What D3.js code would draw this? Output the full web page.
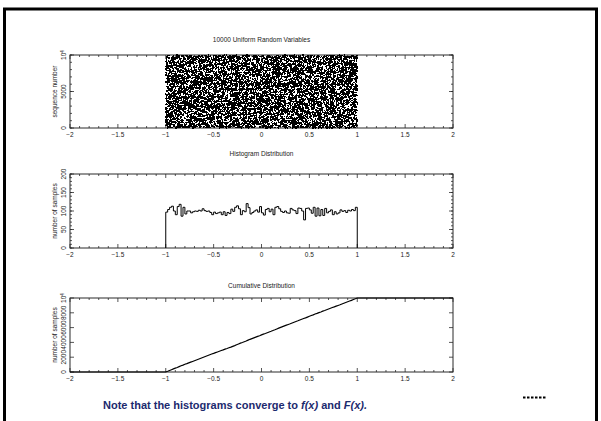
<!DOCTYPE html>
<html>
<head>
<meta charset="utf-8">
<script src="https://cdn.jsdelivr.net/npm/d3@7"></script>
<style>
  body { margin: 0; background: #fff; }
  svg { display: block; }
</style>
</head>
<body>
<div id="chart"></div>
<script>
var width = 601, height = 421;

// x axis, shared by the three panels
var xMajor = [-2, -1.5, -1, -0.5, 0, 0.5, 1, 1.5, 2];
var xLabels = ["\u22122", "\u22121.5", "\u22121", "\u22120.5", "0", "0.5", "1", "1.5", "2"];

// histogram counts, 100 bins of 0.02 from -1 to 1
var binEdgeStart = -1, binWidth = 0.02;
var counts = [
   97, 104, 110, 113, 100,  90, 112, 118,  86, 110,
   92, 100, 100,  95,  98, 100,  99, 102, 100, 106,
  101,  99, 100,  96,  90,  97,  93,  95,  97,  90,
   98,  88,  96,  93, 105,  99, 110, 114, 106,  90,
  101,  98, 120, 109,  92,  96, 100, 103,  97, 112,
   95,  89, 104, 107,  98, 105,  90, 110, 112, 106,
   99,  96, 100,  95,  94, 107, 103, 101,  93, 108,
  107, 100,  76, 107, 108, 103,  94, 110,  86, 108,
   87, 104,  88, 107,  95,  99, 103,  90,  98,  92,
   95, 103,  99, 101,  96, 102, 100, 104, 101, 110
];

var titles = ["10000 Uniform Random Variables", "Histogram Distribution", "Cumulative Distribution"];
var yTitles = ["sequence number", "number of samples", "number of samples"];
var yMax = [10000, 200, 10000];
var yTicks1 = [0, 5000, 10000];
var yTicks2 = [0, 50, 100, 150, 200];
var yTicks3 = [0, 2000, 4000, 6000, 8000, 10000];

var svg = d3.select("#chart")
  .append("svg")
    .attr("width", width)
    .attr("height", height);

// slide frame
svg.append("rect")
  .attr("x", 4.5).attr("y", 9)
  .attr("width", 592).attr("height", 430)
  .attr("fill", "none")
  .attr("stroke", "#000")
  .attr("stroke-width", 3);

var x = d3.scaleLinear().domain([-2, 2]).range([70, 453]);

var panels = [
  {top: 55, bottom: 128, titleY: 42, ticks: yTicks1, minor: 1000},
  {top: 174, bottom: 248, titleY: 156, ticks: yTicks2, minor: 10},
  {top: 298, bottom: 372, titleY: 288, ticks: yTicks3, minor: 0}
];

var axisColor = "#2a2a2a";
var fontFam = "Liberation Sans, Arial, sans-serif";
var fs = "6.5px";

function tickLabel(g, v) {
  if (v === 10000) {
    g.text("10");
    g.append("tspan").attr("baseline-shift", "super").attr("font-size", "4.5px").text("4");
  } else {
    g.text(String(v));
  }
}

panels.forEach(function(p, i) {
  var y = d3.scaleLinear().domain([0, yMax[i]]).range([p.bottom, p.top]);
  p.y = y;
  var g = svg.append("g");

  g.append("text")
    .attr("x", x(0)).attr("y", p.titleY)
    .attr("text-anchor", "middle")
    .attr("font-family", fontFam).attr("font-size", fs)
    .attr("fill", "#222")
    .text(titles[i]);

  // x ticks top and bottom
  var minorX = d3.range(-20, 21).map(function(d) { return d / 10; });
  minorX.forEach(function(v) {
    var major = Math.abs(v * 2 - Math.round(v * 2)) < 1e-9;
    var len = major ? 4 : 2;
    g.append("line").attr("x1", x(v)).attr("x2", x(v))
      .attr("y1", p.bottom).attr("y2", p.bottom - len)
      .attr("stroke", axisColor).attr("stroke-width", 0.8);
    g.append("line").attr("x1", x(v)).attr("x2", x(v))
      .attr("y1", p.top).attr("y2", p.top + len)
      .attr("stroke", axisColor).attr("stroke-width", 0.8);
  });
  xMajor.forEach(function(v, k) {
    g.append("text")
      .attr("x", x(v)).attr("y", p.bottom + 9)
      .attr("text-anchor", "middle")
      .attr("font-family", fontFam).attr("font-size", fs)
      .attr("fill", "#222")
      .text(xLabels[k]);
  });

  // y ticks left and right
  var yMinor = p.minor ? d3.range(0, yMax[i] + 1, p.minor) : [];
  yMinor.forEach(function(v) {
    g.append("line").attr("x1", x.range()[0]).attr("x2", x.range()[0] + 2)
      .attr("y1", y(v)).attr("y2", y(v))
      .attr("stroke", axisColor).attr("stroke-width", 0.8);
    g.append("line").attr("x1", x.range()[1]).attr("x2", x.range()[1] - 2)
      .attr("y1", y(v)).attr("y2", y(v))
      .attr("stroke", axisColor).attr("stroke-width", 0.8);
  });
  p.ticks.forEach(function(v) {
    g.append("line").attr("x1", x.range()[0]).attr("x2", x.range()[0] + 4)
      .attr("y1", y(v)).attr("y2", y(v))
      .attr("stroke", axisColor).attr("stroke-width", 0.8);
    g.append("line").attr("x1", x.range()[1]).attr("x2", x.range()[1] - 4)
      .attr("y1", y(v)).attr("y2", y(v))
      .attr("stroke", axisColor).attr("stroke-width", 0.8);
    var t = g.append("text")
      .attr("transform", "translate(" + (x.range()[0] - 4) + "," + y(v) + ") rotate(-90)")
      .attr("text-anchor", "middle")
      .attr("font-family", fontFam).attr("font-size", fs)
      .attr("fill", "#222");
    tickLabel(t, v);
  });

  g.append("text")
    .attr("transform", "translate(" + (x.range()[0] - 13) + "," + ((p.top + p.bottom) / 2) + ") rotate(-90)")
    .attr("text-anchor", "middle")
    .attr("font-family", fontFam).attr("font-size", fs)
    .attr("fill", "#222")
    .text(yTitles[i]);

  g.append("rect")
    .attr("x", x.range()[0]).attr("y", p.top)
    .attr("width", x.range()[1] - x.range()[0]).attr("height", p.bottom - p.top)
    .attr("fill", "none").attr("stroke", axisColor).attr("stroke-width", 1);
});

// panel 1: the samples, laid out bin by bin from the histogram counts;
// sequence numbers are scattered with a fixed integer hash
function hash(n) {
  n = (n ^ 61) ^ (n >>> 16);
  n = (n + (n << 3)) | 0;
  n = n ^ (n >>> 4);
  n = Math.imul(n, 0x27d4eb2d);
  n = n ^ (n >>> 15);
  return n >>> 0;
}
var samples = [];
var n = 0;
counts.forEach(function(c, i) {
  for (var k = 0; k < c; k++) {
    var h = hash(n * 2 + 1);
    samples.push({
      v: binEdgeStart + (i + (h % 1000) / 1000) * binWidth,
      seq: hash(n * 2 + 7) % 10000
    });
    n++;
  }
});
var y1 = panels[0].y;
svg.append("g").selectAll("rect")
  .data(samples)
  .enter().append("rect")
    .attr("x", function(d) { return x(d.v) - 0.65; })
    .attr("y", function(d) { return y1(d.seq) - 0.65; })
    .attr("width", 1.3).attr("height", 1.3)
    .attr("fill", "#000")
    .attr("shape-rendering", "crispEdges");

// panel 2: histogram steps
var histPts = [[binEdgeStart, 0]];
counts.forEach(function(c, i) { histPts.push([binEdgeStart + i * binWidth, c]); });
histPts.push([1, counts[counts.length - 1]]);
histPts.push([1, 0]);
var y2 = panels[1].y;
svg.append("path")
  .attr("d", d3.line().x(function(d) { return x(d[0]); }).y(function(d) { return y2(d[1]); })
    .curve(d3.curveStepAfter)(histPts))
  .attr("fill", "none").attr("stroke", "#000").attr("stroke-width", 1);

// panel 3: cumulative counts
var cum = d3.cumsum(counts);
var cumPts = [[-2, 0], [binEdgeStart, 0]];
cum.forEach(function(c, i) { cumPts.push([binEdgeStart + (i + 1) * binWidth, Math.min(c, 10000)]); });
cumPts.push([2, Math.min(cum[cum.length - 1], 10000)]);
var y3 = panels[2].y;
svg.append("path")
  .attr("d", d3.line().x(function(d) { return x(d[0]); }).y(function(d) { return y3(d[1]); })(cumPts))
  .attr("fill", "none").attr("stroke", "#000").attr("stroke-width", 1.2);

// caption
var note = svg.append("text")
  .attr("x", 103).attr("y", 409)
  .attr("font-family", fontFam).attr("font-size", "11px")
  .attr("font-weight", "bold").attr("fill", "#1c2a6e");
note.append("tspan").text("Note that the histograms converge to ");
note.append("tspan").attr("font-style", "italic").text("f(x)");
note.append("tspan").text(" and ");
note.append("tspan").attr("font-style", "italic").text("F(x).");

svg.append("line")
  .attr("x1", 523).attr("x2", 546).attr("y1", 397.5).attr("y2", 397.5)
  .attr("stroke", "#000").attr("stroke-width", 2)
  .attr("stroke-dasharray", "2.5,1.5");
</script>
</body>
</html>
